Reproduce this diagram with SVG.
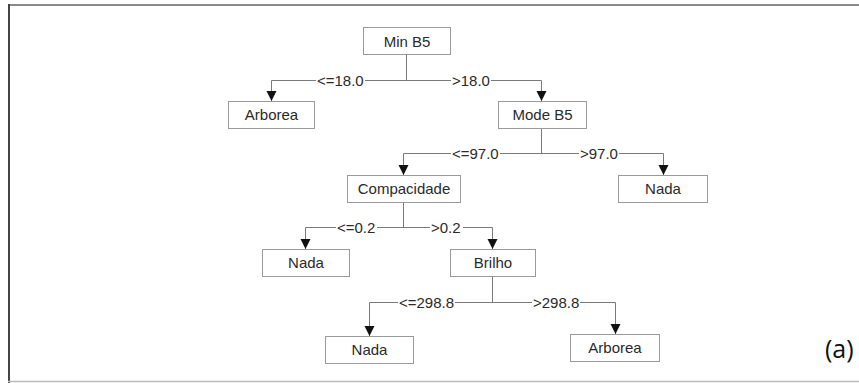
<svg xmlns="http://www.w3.org/2000/svg" width="859" height="383" viewBox="0 0 859 383">
<style>
.box{fill:#fff;stroke:#9a9a9a;stroke-width:1}
.nt{font-family:"Liberation Sans",Arial,sans-serif;font-size:15px;fill:#2a2a2a;text-anchor:middle}
.lt{font-family:"Liberation Sans",Arial,sans-serif;font-size:15px;fill:#2a2a2a}
.ln{stroke:#7a7a7a;stroke-width:1;fill:none}
.bg{fill:#fff}
</style>
<rect x="0" y="0" width="859" height="383" fill="#fff"/>
<g id="frame">
<line x1="8" y1="5" x2="859" y2="5" stroke="#8a8a8a" stroke-width="2"/>
<line x1="9" y1="4" x2="9" y2="383" stroke="#444" stroke-width="2"/>
<line x1="8" y1="381.5" x2="859" y2="381.5" stroke="#bbb" stroke-width="1.5"/>
</g>
<g id="connectors">
<path class="ln" d="M406.5,55 V80.5 M271.5,80.5 H541.5 M271.5,80.5 V101 M541.5,80.5 V101" />
<path class="ln" d="M541.5,128 V153.5 M403.5,153.5 H663.5 M403.5,153.5 V175 M663.5,153.5 V175" />
<path class="ln" d="M403.5,202 V227.5 M305.5,227.5 H492.5 M305.5,227.5 V249 M492.5,227.5 V249" />
<path class="ln" d="M492.5,276 V302.5 M369.5,302.5 H615.5 M369.5,302.5 V336 M615.5,302.5 V334" />
<g fill="#111">
<path d="M266.5,91 L276.5,91 L271.5,101 Z"/>
<path d="M536.5,91 L546.5,91 L541.5,101 Z"/>
<path d="M398.5,165 L408.5,165 L403.5,175 Z"/>
<path d="M658.5,165 L668.5,165 L663.5,175 Z"/>
<path d="M300.5,239 L310.5,239 L305.5,249 Z"/>
<path d="M487.5,239 L497.5,239 L492.5,249 Z"/>
<path d="M364.5,326 L374.5,326 L369.5,336 Z"/>
<path d="M610.5,324 L620.5,324 L615.5,334 Z"/>
</g>
<g id="labels">
<rect class="bg" x="316" y="74" width="49" height="13"/>
<text class="lt" x="317" y="86">&lt;=18.0</text>
<rect class="bg" x="451" y="74" width="40" height="13"/>
<text class="lt" x="452" y="86">&gt;18.0</text>
<rect class="bg" x="451" y="147" width="49" height="13"/>
<text class="lt" x="452" y="159">&lt;=97.0</text>
<rect class="bg" x="579" y="147" width="40" height="13"/>
<text class="lt" x="580" y="159">&gt;97.0</text>
<rect class="bg" x="336" y="221" width="41" height="13"/>
<text class="lt" x="337" y="233">&lt;=0.2</text>
<rect class="bg" x="430" y="221" width="33" height="13"/>
<text class="lt" x="431" y="233">&gt;0.2</text>
<rect class="bg" x="398" y="296" width="57" height="13"/>
<text class="lt" x="399" y="308">&lt;=298.8</text>
<rect class="bg" x="532" y="296" width="48" height="13"/>
<text class="lt" x="533" y="308">&gt;298.8</text>
</g>
</g>
<g id="n-minb5"><rect class="box" x="363.5" y="27.5" width="87" height="27"/><text class="nt" x="407" y="46.5">Min B5</text></g>
<g id="n-arborea1"><rect class="box" x="228.5" y="101.5" width="86" height="27"/><text class="nt" x="271.5" y="120">Arborea</text></g>
<g id="n-modeb5"><rect class="box" x="498.5" y="101.5" width="88" height="27"/><text class="nt" x="542.5" y="120">Mode B5</text></g>
<g id="n-compacidade"><rect class="box" x="347.5" y="175.5" width="113" height="27"/><text class="nt" x="404" y="194">Compacidade</text></g>
<g id="n-nada1"><rect class="box" x="618.5" y="175.5" width="89" height="27"/><text class="nt" x="663" y="194">Nada</text></g>
<g id="n-nada2"><rect class="box" x="262.5" y="249.5" width="87" height="27"/><text class="nt" x="306" y="268">Nada</text></g>
<g id="n-brilho"><rect class="box" x="450.5" y="249.5" width="85" height="27"/><text class="nt" x="493" y="268">Brilho</text></g>
<g id="n-nada3"><rect class="box" x="325.5" y="336.5" width="88" height="27"/><text class="nt" x="369.5" y="355">Nada</text></g>
<g id="n-arborea2"><rect class="box" x="570.5" y="334.5" width="89" height="27"/><text class="nt" x="615" y="353">Arborea</text></g>
<text x="825" y="358" font-family="'Open Sans','Noto Sans',sans-serif" font-size="25" fill="#111">(a)</text>
</svg>
